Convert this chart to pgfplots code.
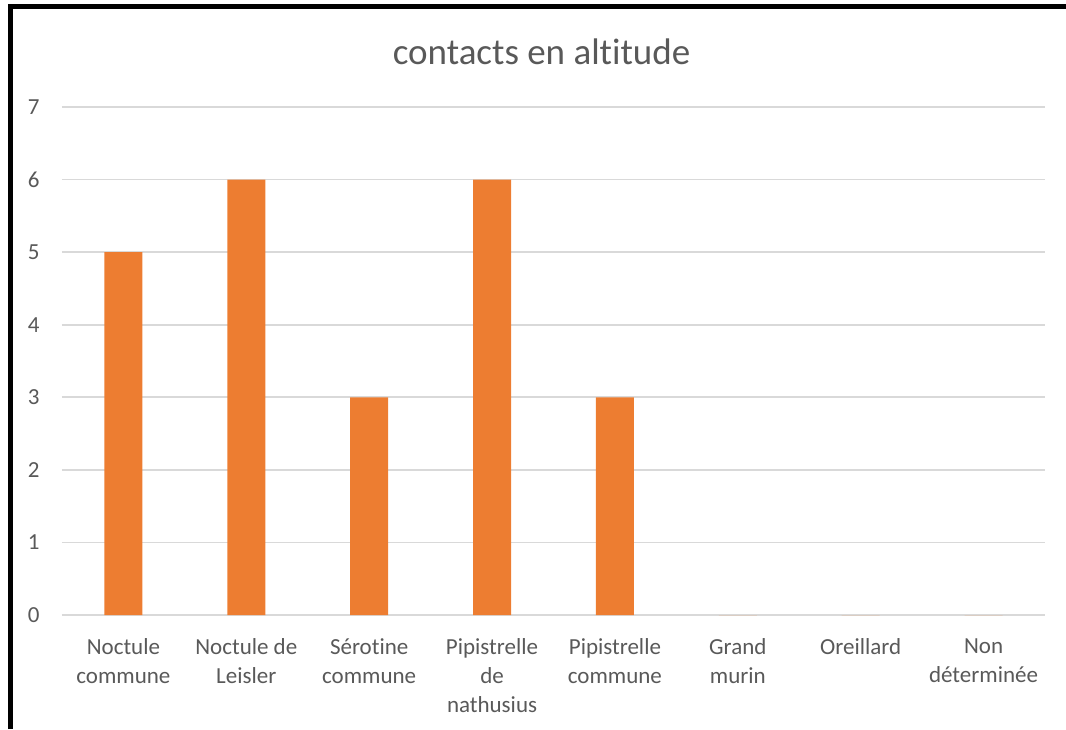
\documentclass[border=0pt]{standalone}
\usepackage{pgfplots}
\pgfplotsset{compat=1.18}
\usepackage{fontspec}
\setmainfont{Carlito}[Ligatures={NoCommon}]
\definecolor{barorange}{HTML}{ED7D31}
\definecolor{gridgray}{HTML}{D9D9D9}
\definecolor{textgray}{HTML}{595959}
\begin{document}
\begin{tikzpicture}
\useasboundingbox (0,0) rectangle (533pt,364.5pt);
% outer frame (left and top edges)
\draw[line width=2.6pt,black] (5.25pt,0pt) -- (5.25pt,361.25pt) -- (533pt,361.25pt);
\begin{axis}[
  at={(31pt,57pt)}, anchor=south west,
  scale only axis,
  width=491.5pt, height=254pt,
  xmin=-0.5, xmax=7.5, ymin=0, ymax=7,
  axis line style={draw=none},
  major tick length=0pt,
  ytick={0,1,...,7},
  ymajorgrids, major grid style={gridgray, line width=0.9pt},
  xtick={0,...,7},
  xticklabels={{Noctule\\commune},{Noctule de\\Leisler},{Sérotine\\commune},{Pipistrelle\\de\\nathusius},{Pipistrelle\\commune},{Grand\\murin},{Oreillard},{Non\\déterminée}},
  tick label style={font=\fontsize{11.5}{14.5}\selectfont, text=textgray},
  /pgf/number format/assume math mode=true,
  yticklabel style={inner sep=0pt, anchor=east, xshift=-11pt},
  xticklabel style={inner sep=0pt, anchor=north, yshift=-11.5pt, align=center},
  clip=false,
]
% horizontal zero line
\draw[gridgray, line width=0.9pt] (axis cs:-0.5,0) -- (axis cs:7.5,0);
\addplot[ybar, bar width=19pt, fill=barorange, draw=none] coordinates {
  (0,5) (1,6) (2,3) (3,6) (4,3) (5,0) (6,0) (7,0)
};
\end{axis}
\node[anchor=base, text=textgray, font=\fontsize{18.5}{22}\selectfont] at (270.8pt,332pt) {contacts en altitude};
\end{tikzpicture}
\end{document}
